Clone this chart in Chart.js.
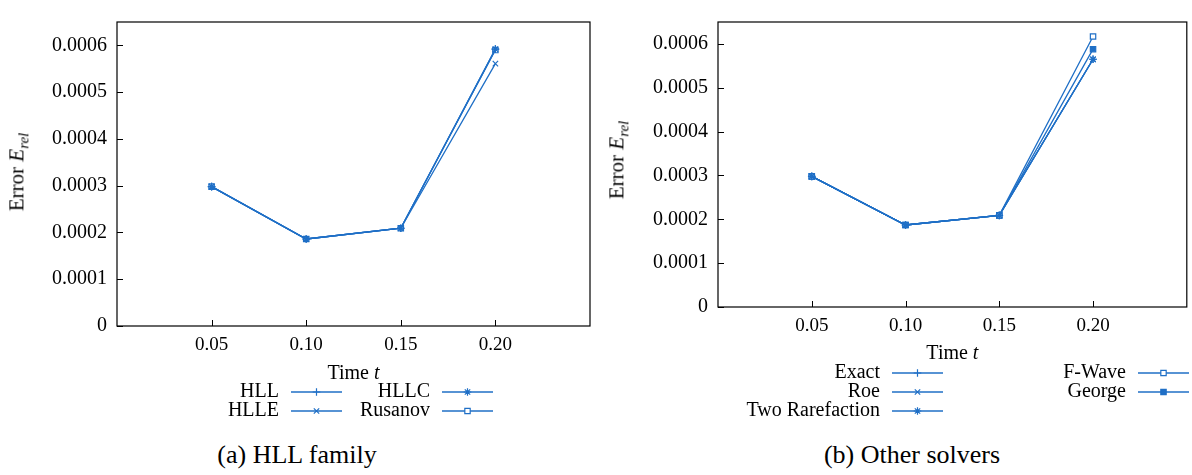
<!DOCTYPE html>
<html>
<head>
<meta charset="utf-8">
<script src="https://cdn.jsdelivr.net/npm/chart.js@4.4.0/dist/chart.umd.min.js"></script>
<style>
  body { margin: 0; background: #fff; width: 1192px; height: 475px; overflow: hidden; position: relative;
         font-family: "Liberation Serif", serif; }
  .panel { position: absolute; top: 0; height: 430px; }
  .ytitle { position: absolute; font-size: 21px; white-space: nowrap; line-height: 1;
            transform: translate(-50%, -50%) rotate(-90deg); }
  .ytitle sub { font-size: 15px; font-style: italic; }
  .caption { position: absolute; top: 440px; font-size: 26px; line-height: 30px;
             transform: translateX(-50%); white-space: nowrap; }
</style>
</head>
<body>
<div class="panel" style="left:0;width:600px"><canvas id="left"></canvas></div>
<div class="panel" style="left:600px;width:592px"><canvas id="right"></canvas></div>
<div class="ytitle" style="left:19px;top:172px">Error <i>E</i><sub>rel</sub></div>
<div class="ytitle" style="left:619px;top:160px">Error <i>E</i><sub>rel</sub></div>
<div class="caption" style="left:297px">(a) HLL family</div>
<div class="caption" style="left:912px">(b) Other solvers</div>
<script>
const times = [0.05, 0.10, 0.15, 0.20];
const xTicks = [0.05, 0.10, 0.15, 0.20];
const yTicks = [0, 0.0001, 0.0002, 0.0003, 0.0004, 0.0005, 0.0006];

// (a) HLL family
const hll     = [0.000298, 0.000186, 0.000209, 0.000592];
const hlle    = [0.000298, 0.000186, 0.000209, 0.000561];
const hllc    = [0.000298, 0.000186, 0.000209, 0.000592];
const rusanov = [0.000298, 0.000186, 0.000209, 0.000590];

// (b) Other solvers
const exact   = [0.000298, 0.000187, 0.000209, 0.000565];
const roe     = [0.000298, 0.000187, 0.000209, 0.000565];
const twoRare = [0.000298, 0.000187, 0.000209, 0.000565];
const fwave   = [0.000298, 0.000187, 0.000209, 0.000617];
const george  = [0.000298, 0.000187, 0.000209, 0.000588];

const BLUE = '#1f6fc6';
const FONT = '"Liberation Serif", serif';

function series(label, values, style, filled) {
  return {
    label,
    data: times.map((t, i) => ({ x: t, y: values[i] })),
    borderColor: BLUE,
    borderWidth: 1.3,
    pointStyle: style,
    pointRadius: 3.8,
    pointBorderWidth: 1.2,
    pointBorderColor: BLUE,
    pointBackgroundColor: filled ? BLUE : '#fff',
    tension: 0,
    fill: false
  };
}

// frame, inward ticks, x title and gnuplot-like legend
const framePlugin = {
  id: 'frame',
  afterDraw(chart, args, opts) {
    const { ctx, chartArea: a, scales } = chart;
    ctx.save();
    ctx.strokeStyle = '#000';
    ctx.lineWidth = 1.2;
    ctx.strokeRect(a.left, a.top, a.right - a.left, a.bottom - a.top);
    ctx.lineWidth = 1;
    ctx.beginPath();
    yTicks.forEach(v => {
      const y = Math.round(scales.y.getPixelForValue(v)) + 0.5;
      ctx.moveTo(a.left, y); ctx.lineTo(a.left + 6, y);
    });
    xTicks.forEach(v => {
      const x = Math.round(scales.x.getPixelForValue(v)) + 0.5;
      ctx.moveTo(x, a.bottom); ctx.lineTo(x, a.bottom - 6);
    });
    ctx.stroke();

    // x title "Time t"
    ctx.fillStyle = '#000';
    ctx.textBaseline = 'middle';
    const cx = (a.left + a.right) / 2;
    ctx.font = '20px ' + FONT;
    const w1 = ctx.measureText('Time ').width;
    ctx.font = 'italic 20px ' + FONT;
    const w2 = ctx.measureText('t').width;
    const x0 = cx - (w1 + w2) / 2;
    ctx.textAlign = 'left';
    ctx.font = '20px ' + FONT;
    ctx.fillText('Time ', x0, opts.titleY);
    ctx.font = 'italic 20px ' + FONT;
    ctx.fillText('t', x0 + w1, opts.titleY);

    // legend
    ctx.font = '20px ' + FONT;
    ctx.textAlign = 'right';
    chart.data.datasets.forEach((ds, i) => {
      const pos = opts.legend[i];
      ctx.fillStyle = '#000';
      ctx.fillText(ds.label, pos.textX, pos.y);
      ctx.strokeStyle = BLUE;
      ctx.lineWidth = 1.3;
      ctx.beginPath();
      ctx.moveTo(pos.textX + 12, pos.y);
      ctx.lineTo(pos.textX + 63, pos.y);
      ctx.stroke();
      ctx.lineWidth = 1.2;
      ctx.fillStyle = ds.pointBackgroundColor;
      Chart.helpers.drawPoint(ctx, { pointStyle: ds.pointStyle, radius: 3.8, borderWidth: 1.2 },
        pos.textX + 37.5, pos.y);
    });
    ctx.restore();
  }
};

function makeChart(id, datasets, geo) {
  return new Chart(document.getElementById(id), {
    type: 'line',
    data: { datasets },
    plugins: [framePlugin],
    options: {
      responsive: false,
      animation: false,
      layout: { padding: { top: 8, right: geo.padRight, left: 0, bottom: 0 } },
      plugins: {
        legend: { display: false },
        tooltip: { enabled: false },
        frame: { titleY: geo.titleY, legend: geo.legend }
      },
      scales: {
        x: {
          type: 'linear', min: 0, max: 0.25,
          afterBuildTicks: s => { s.ticks = xTicks.map(v => ({ value: v })); },
          afterFit: s => { s.height = geo.xHeight; },
          grid: { display: false, drawTicks: false },
          border: { display: false },
          ticks: { color: '#000', font: { family: FONT, size: 19 }, padding: 8,
                   maxRotation: 0, callback: v => v.toFixed(2) }
        },
        y: {
          min: 0, max: 0.00065,
          afterBuildTicks: s => { s.ticks = yTicks.map(v => ({ value: v })); },
          afterFit: s => { s.width = geo.yWidth; },
          grid: { display: false, drawTicks: false },
          border: { display: false },
          ticks: { color: '#000', font: { family: FONT, size: 20 }, padding: 10,
                   callback: v => v === 0 ? '0' : v.toFixed(4) }
        }
      }
    }
  });
}

function sizeCanvas(id, w, h) {
  const c = document.getElementById(id);
  c.width = w; c.height = h;
  c.style.width = w + 'px'; c.style.height = h + 'px';
}

function draw() {
  sizeCanvas('left', 600, 430);
  sizeCanvas('right', 592, 430);

  makeChart('left', [
    series('HLL', hll, 'cross', false),
    series('HLLE', hlle, 'crossRot', false),
    series('HLLC', hllc, 'star', false),
    series('Rusanov', rusanov, 'rect', false)
  ], {
    padRight: 10, xHeight: 104, yWidth: 117, titleY: 374,
    legend: [
      { textX: 279, y: 392 }, { textX: 279, y: 411 },
      { textX: 430, y: 392 }, { textX: 430, y: 411 }
    ]
  });

  makeChart('right', [
    series('Exact', exact, 'cross', false),
    series('Roe', roe, 'crossRot', false),
    series('Two Rarefaction', twoRare, 'star', false),
    series('F-Wave', fwave, 'rect', false),
    series('George', george, 'rect', true)
  ], {
    padRight: 2, xHeight: 123, yWidth: 118, titleY: 354,
    legend: [
      { textX: 280, y: 373 }, { textX: 280, y: 392 }, { textX: 280, y: 411 },
      { textX: 526, y: 373 }, { textX: 526, y: 392 }
    ]
  });
}

Promise.all([
  document.fonts.load('20px "Liberation Serif"'),
  document.fonts.load('italic 20px "Liberation Serif"')
]).then(draw, draw);
</script>
</body>
</html>
